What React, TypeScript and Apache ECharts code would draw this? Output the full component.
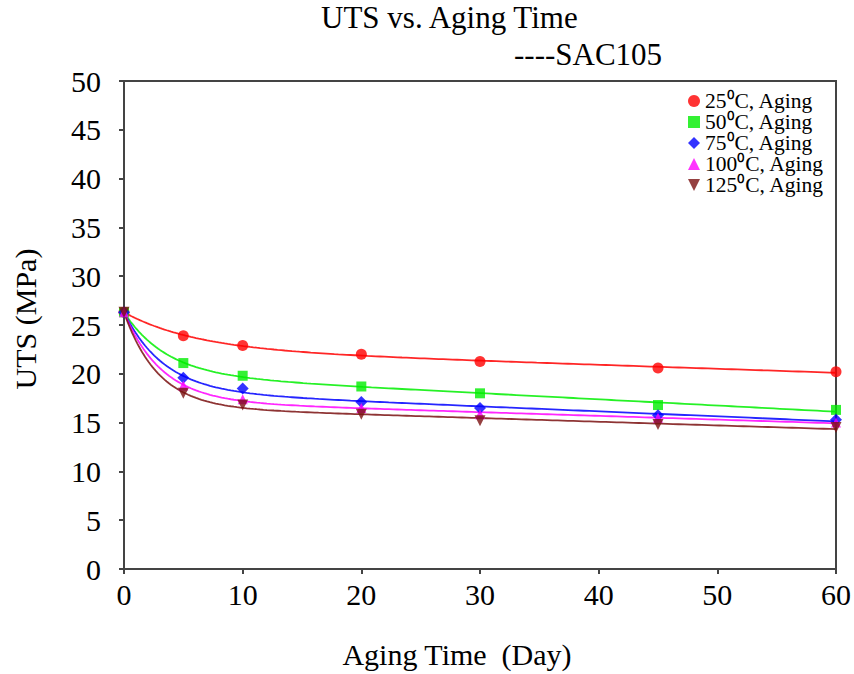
import React, { useEffect, useRef } from "react";
import * as echarts from "echarts";

// Aging time (days) and ultimate tensile strength (MPa) for SAC105
const days = [0, 5, 10, 20, 30, 45, 60];
const temps = ["25⁰C, Aging", "50⁰C, Aging", "75⁰C, Aging", "100⁰C, Aging", "125⁰C, Aging"];
const uts25 = [26.3, 23.9, 22.9, 22.0, 21.25, 20.6, 20.2];
const uts50 = [26.3, 21.1, 19.8, 18.7, 18.0, 16.8, 16.3];
const uts75 = [26.3, 19.6, 18.5, 17.1, 16.5, 15.75, 15.3];
const uts100 = [26.3, 18.8, 17.4, 16.5, 15.85, 15.5, 15.0];
const uts125 = [26.3, 18.0, 16.8, 15.85, 15.2, 14.8, 14.5];
const xTicks = [0, 10, 20, 30, 40, 50, 60];

const seriesValues = [uts25, uts50, uts75, uts100, uts125];
const colors = ["#ff0000", "#00ee00", "#0000ff", "#ff00ff", "#7a1010"];
const symbols = ["circle", "rect", "diamond", "triangle", "path://M0,0 L10,0 L5,10 Z"];
const symbolSizes = [11, 10, 12, 10, 11];

const FONT = "'Liberation Serif', 'Times New Roman', serif";

// Empirical aging trend  y = y0 - A (1 - exp(-t / tau)) - B t
// least squares: tau by search, A and B from the 2x2 normal equations
function fitTrend(ts: number[], ys: number[]): [number, number][] {
  const y0 = ys[0];
  let best = { A: 0, B: 0, tau: 1, sse: Infinity };
  for (let k = 0; k <= 400; k++) {
    const tau = 0.5 * Math.pow(80, k / 400);
    let s11 = 0, s12 = 0, s22 = 0, r1 = 0, r2 = 0;
    ts.forEach((t, i) => {
      const f1 = 1 - Math.exp(-t / tau);
      const f2 = t;
      const d = y0 - ys[i];
      s11 += f1 * f1;
      s12 += f1 * f2;
      s22 += f2 * f2;
      r1 += f1 * d;
      r2 += f2 * d;
    });
    const det = s11 * s22 - s12 * s12;
    if (Math.abs(det) < 1e-12) continue;
    const A = (r1 * s22 - r2 * s12) / det;
    const B = (s11 * r2 - s12 * r1) / det;
    let sse = 0;
    ts.forEach((t, i) => {
      const r = y0 - A * (1 - Math.exp(-t / tau)) - B * t - ys[i];
      sse += r * r;
    });
    if (sse < best.sse) best = { A, B, tau, sse };
  }
  const tMax = ts[ts.length - 1];
  const steps = 180;
  const out: [number, number][] = [];
  for (let k = 0; k <= steps; k++) {
    const t = tMax * Math.pow(k / steps, 1.6);
    out.push([t, y0 - best.A * (1 - Math.exp(-t / best.tau)) - best.B * t]);
  }
  return out;
}

export default function App() {
  const ref = useRef<HTMLDivElement>(null);

  useEffect(() => {
    if (!ref.current) return;
    const chart = echarts.init(ref.current, null, { renderer: "svg" });

    const trendSeries = temps.map((t, i) => ({
      name: t + " fit",
      type: "line",
      data: fitTrend(days, seriesValues[i]),
      showSymbol: false,
      symbol: "none",
      smooth: false,
      color: colors[i],
      lineStyle: { color: colors[i], width: 1.8, opacity: 0.85 },
      silent: true,
      z: 2,
    }));

    const pointSeries = temps.map((t, i) => ({
      name: t,
      type: "scatter",
      data: days.map((d, j) => [d, seriesValues[i][j]]),
      symbol: symbols[i],
      symbolSize: symbolSizes[i],
      itemStyle: { color: colors[i] },
      z: 3 + i,
    }));

    chart.setOption({
      animation: false,
      backgroundColor: "#ffffff",
      title: [
        {
          text: "UTS vs. Aging Time",
          left: 321,
          top: 2,
          padding: 0,
          textStyle: { fontFamily: FONT, fontSize: 31, fontWeight: "normal", color: "#000" },
        },
        {
          text: "----SAC105",
          left: 514,
          top: 39,
          padding: 0,
          textStyle: { fontFamily: FONT, fontSize: 31, fontWeight: "normal", color: "#000" },
        },
      ],
      grid: {
        left: 124,
        right: 18,
        top: 81,
        bottom: 104,
        show: true,
        borderColor: "#444",
        borderWidth: 2,
        backgroundColor: "transparent",
      },
      legend: {
        orient: "vertical",
        left: 688,
        top: 90,
        itemGap: -1,
        itemWidth: 12,
        itemHeight: 12,
        padding: 0,
        textStyle: {
          fontFamily: FONT,
          fontSize: 21.5,
          color: "#000",
          lineHeight: 20,
        },
        data: temps.map((t, i) => ({ name: t, icon: symbols[i] })),
      },
      xAxis: {
        type: "value",
        min: 0,
        max: 60,
        interval: 10,
        name: "Aging Time  (Day)",
        nameLocation: "middle",
        nameGap: 70,
        nameTextStyle: { fontFamily: FONT, fontSize: 30, color: "#000", padding: [0, 46, 0, 0] },
        axisLine: { show: true, onZero: false, lineStyle: { color: "#444", width: 2 } },
        axisTick: { show: true, inside: false, length: 5, lineStyle: { color: "#444", width: 2 } },
        axisLabel: {
          fontFamily: FONT,
          fontSize: 30,
          color: "#000",
          margin: 10,
          formatter: (v: number) => (xTicks.includes(v) ? String(v) : ""),
        },
        splitLine: { show: false },
      },
      yAxis: {
        type: "value",
        min: 0,
        max: 50,
        interval: 5,
        name: "UTS (MPa)",
        nameLocation: "middle",
        nameGap: 84,
        nameRotate: 90,
        nameTextStyle: { fontFamily: FONT, fontSize: 30, color: "#000", padding: [0, 0, 0, 12] },
        axisLine: { show: true, lineStyle: { color: "#444", width: 2 } },
        axisTick: { show: true, inside: false, length: 5, lineStyle: { color: "#444", width: 2 } },
        axisLabel: { fontFamily: FONT, fontSize: 30, color: "#000", margin: 23 },
        splitLine: { show: false },
      },
      series: [...trendSeries, ...pointSeries],
    });

    return () => chart.dispose();
  }, []);

  return (
    <div
      ref={ref}
      style={{ position: "fixed", left: 0, top: 0, width: 854, height: 674 }}
    />
  );
}
